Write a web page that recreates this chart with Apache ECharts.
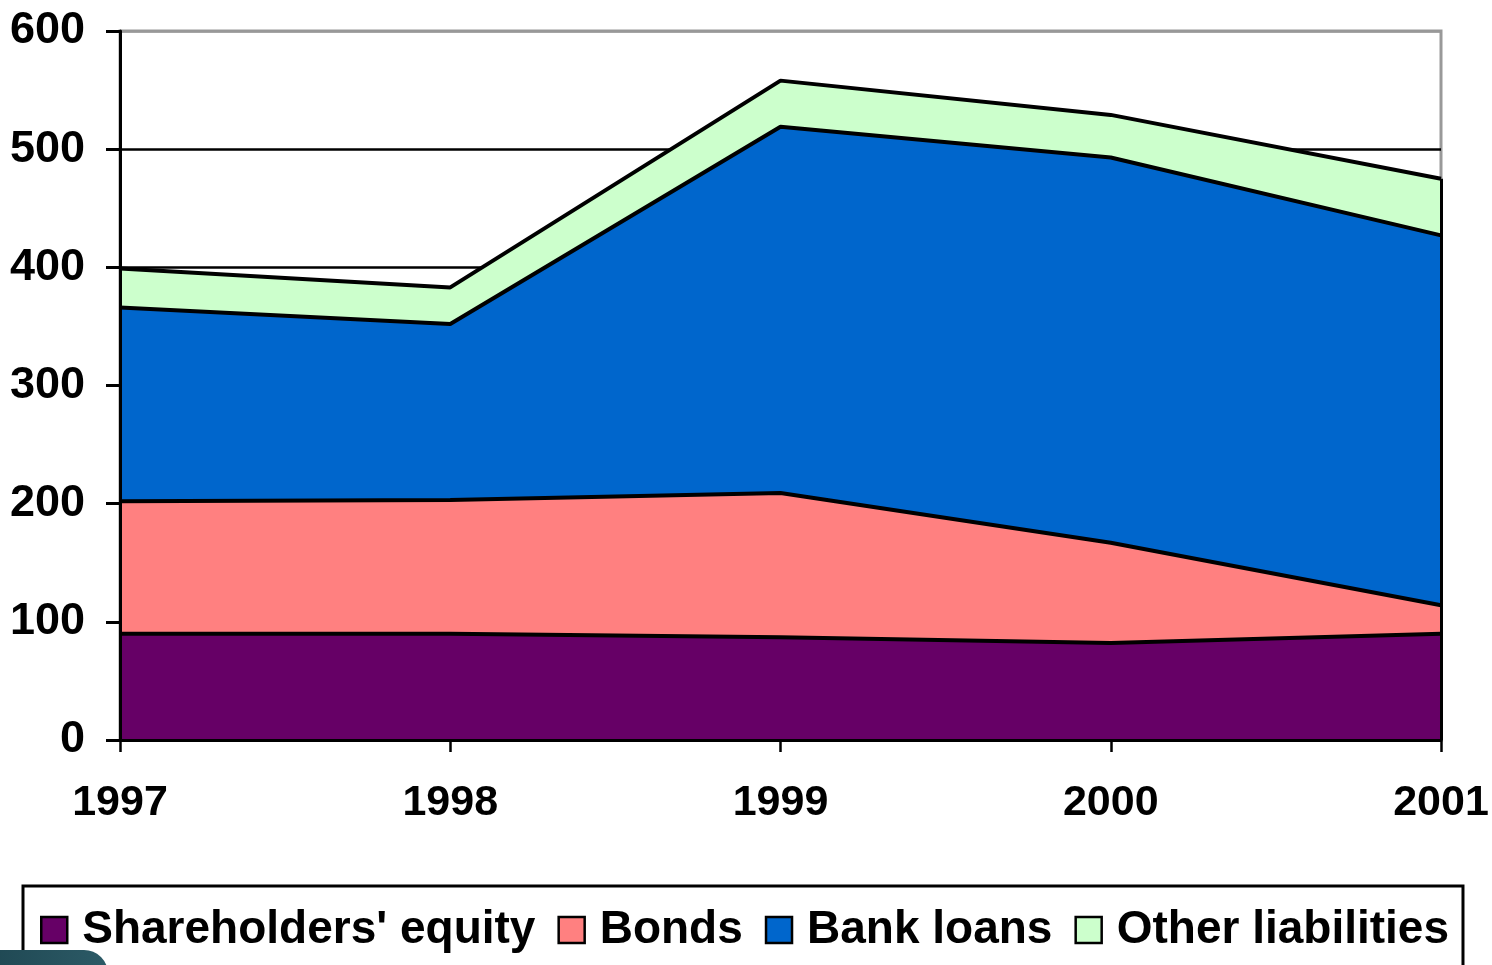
<!DOCTYPE html>
<html>
<head>
<meta charset="utf-8">
<script src="https://cdn.jsdelivr.net/npm/echarts@6/dist/echarts.min.js"></script>
<style>
html,body{margin:0;padding:0;background:#fff;}
#chart{width:1492px;height:965px;}
</style>
</head>
<body>
<div id="chart"></div>
<script>
const years = ['1997', '1998', '1999', '2000', '2001'];
const equity = [90, 90, 87, 82, 90];
const bonds = [112, 113, 122, 85, 24];
const bankLoans = [164, 149, 310, 326, 313];
const otherLiab = [33, 31, 39, 36, 48];
const seriesNames = ["Shareholders' equity", 'Bonds', 'Bank loans', 'Other liabilities'];
const seriesColors = ['#660066', '#FF8080', '#0066CC', '#CCFFCC'];

const FONT = '"Liberation Sans", Arial, sans-serif';
const last = years.length - 1;
const totalLast = equity[last] + bonds[last] + bankLoans[last] + otherLiab[last];
const seriesData = [equity, bonds, bankLoans, otherLiab];

function areaSeries(i) {
  return {
    name: seriesNames[i],
    type: 'line',
    stack: 'area',
    data: seriesData[i],
    symbol: 'none',
    color: seriesColors[i],
    itemStyle: { color: seriesColors[i] },
    lineStyle: { width: 0 },
    areaStyle: { color: seriesColors[i], opacity: 1 },
    emphasis: { disabled: true },
    silent: true,
    z: 2
  };
}
function outlineSeries(i) {
  const s = {
    name: 'outline-' + i,
    type: 'line',
    stack: 'outline',
    data: seriesData[i],
    symbol: 'none',
    color: '#000',
    lineStyle: { color: '#000', width: 4 },
    emphasis: { disabled: true },
    silent: true,
    z: 3
  };
  if (i === seriesData.length - 1) {
    s.markLine = {
      silent: true,
      symbol: 'none',
      label: { show: false },
      lineStyle: { color: '#000', width: 3, type: 'solid' },
      data: [[{ xAxis: years[last], yAxis: 0 }, { xAxis: years[last], yAxis: totalLast }]]
    };
  }
  return s;
}

const series = [];
for (let i = 0; i < seriesData.length; i++) series.push(areaSeries(i));
for (let i = 0; i < seriesData.length; i++) series.push(outlineSeries(i));

const chart = echarts.init(document.getElementById('chart'), null, { renderer: 'canvas' });
chart.setOption({
  animation: false,
  backgroundColor: '#fff',
  grid: {
    left: 120, right: 51, top: 31, bottom: 225,
    show: true, borderColor: '#999', borderWidth: 3, backgroundColor: 'transparent'
  },
  xAxis: {
    type: 'category',
    data: years,
    boundaryGap: false,
    axisLine: { show: true, lineStyle: { color: '#000', width: 3 } },
    axisTick: { show: true, alignWithLabel: true, length: 12, lineStyle: { color: '#000', width: 2.5 } },
    axisLabel: { color: '#000', fontFamily: FONT, fontWeight: 'bold', fontSize: 43, margin: 42 },
    splitLine: { show: false },
    z: 10
  },
  yAxis: [{
    type: 'value',
    min: 0, max: 600, interval: 100,
    axisLine: { show: true, lineStyle: { color: '#000', width: 3 } },
    axisTick: { show: true, length: 14, lineStyle: { color: '#000', width: 3 } },
    axisLabel: { color: '#000', fontFamily: FONT, fontWeight: 'bold', fontSize: 45, margin: 35 },
    splitLine: { show: false },
    z: 10
  }, {
    type: 'value',
    position: 'left',
    min: 0, max: 600, interval: 100,
    axisLine: { show: false },
    axisTick: { show: false },
    axisLabel: { show: false },
    splitLine: { show: true, lineStyle: { color: ['#000', '#000', '#000', '#000', '#000', '#000', '#999'], width: 2.5 } },
    z: 0
  }],
  legend: {
    show: true,
    left: 23, top: 886,
    orient: 'horizontal',
    data: seriesNames,
    icon: 'rect',
    itemWidth: 26, itemHeight: 26,
    itemGap: 22,
    padding: [18, 14, 40, 17],
    borderColor: '#000', borderWidth: 3,
    backgroundColor: '#fff',
    itemStyle: { borderColor: '#000', borderWidth: 2.5 },
    lineStyle: { width: 0 },
    textStyle: { color: '#000', fontFamily: FONT, fontWeight: 'bold', fontSize: 46, lineHeight: 52, padding: [0, 0, 0, 10] },
    selectedMode: false
  },
  series: series,
  graphic: [{
    type: 'rect',
    left: -30, top: 950,
    shape: { width: 138, height: 60, r: 24 },
    style: {
      fill: new echarts.graphic.LinearGradient(0, 0, 1, 0, [
        { offset: 0, color: '#1d4550' },
        { offset: 1, color: '#2c5a66' }
      ])
    },
    z: 100
  }]
});
</script>
</body>
</html>
